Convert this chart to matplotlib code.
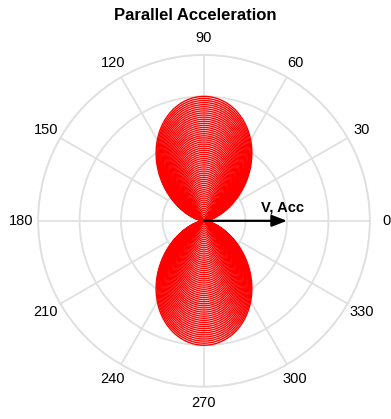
import numpy as np
import matplotlib
matplotlib.use("Agg")
import matplotlib.pyplot as plt

plt.rcParams['font.family'] = ['Liberation Sans', 'DejaVu Sans']

# peak radius of each nested lobe (one curve per frame)
amplitudes = [0.05, 0.10, 0.15, 0.20, 0.25, 0.30, 0.35, 0.40, 0.45, 0.50,
              0.55, 0.60, 0.65, 0.70, 0.75, 0.80, 0.85, 0.90, 0.95, 1.00,
              1.05, 1.10, 1.15, 1.20, 1.25, 1.30, 1.35, 1.40, 1.45, 1.50,
              1.55, 1.60, 1.65, 1.70, 1.75, 1.80, 1.85, 1.90, 1.95, 2.00,
              2.05, 2.10, 2.15, 2.20, 2.25, 2.30, 2.35, 2.40, 2.45, 2.50,
              2.55, 2.60, 2.65, 2.70, 2.75, 2.80, 2.85, 2.90, 2.95, 3.00]
r_ticks = [1, 2, 3, 4]
theta_ticks = [0, 30, 60, 90, 120, 150, 180, 210, 240, 270, 300, 330]
arrow_len = 2.0
arrow_label = "V, Acc"
title = "Parallel Acceleration"

fig = plt.figure(figsize=(3.91, 4.19), dpi=100)
ax = fig.add_axes([0.0972, 0.077, 0.849, 0.792], projection='polar')

grid_col = '#e0e0e0'
ax.set_ylim(0, r_ticks[-1])
ax.set_yticks(r_ticks)
ax.set_yticklabels([])
ax.yaxis.grid(True, color=grid_col, lw=1.3)
ax.xaxis.grid(False)
ax.spines['polar'].set_color(grid_col)
ax.spines['polar'].set_linewidth(1.3)
ax.set_xticks(np.deg2rad(theta_ticks))
ax.set_xticklabels([str(t) for t in theta_ticks], fontsize=10.5)
ax.tick_params(axis='x', pad=5, length=0)

# spokes: the axes ones start at the centre, the others at the first ring
for t in theta_ticks:
    r0 = 0 if t % 90 == 0 else r_ticks[0]
    ax.plot([np.deg2rad(t)] * 2, [r0, r_ticks[-1]], color=grid_col, lw=1.3, zorder=1)

theta = np.linspace(0, 2 * np.pi, 721)
for a in amplitudes:
    ax.plot(theta, a * np.sin(theta) ** 2, color='red', lw=1.0, zorder=2)

ax.annotate('', xy=(0, arrow_len), xytext=(0, 0),
            arrowprops=dict(arrowstyle='-|>,head_length=0.9,head_width=0.35',
                            color='black', lw=1.6, shrinkA=0, shrinkB=0),
            zorder=5)
ax.text(np.deg2rad(13), 1.4, arrow_label, fontsize=10.5, fontweight='bold',
        ha='left', va='center', zorder=6)

fig.suptitle(title, fontsize=12, fontweight='bold', y=0.982)

fig.savefig('out.png', dpi=100)
